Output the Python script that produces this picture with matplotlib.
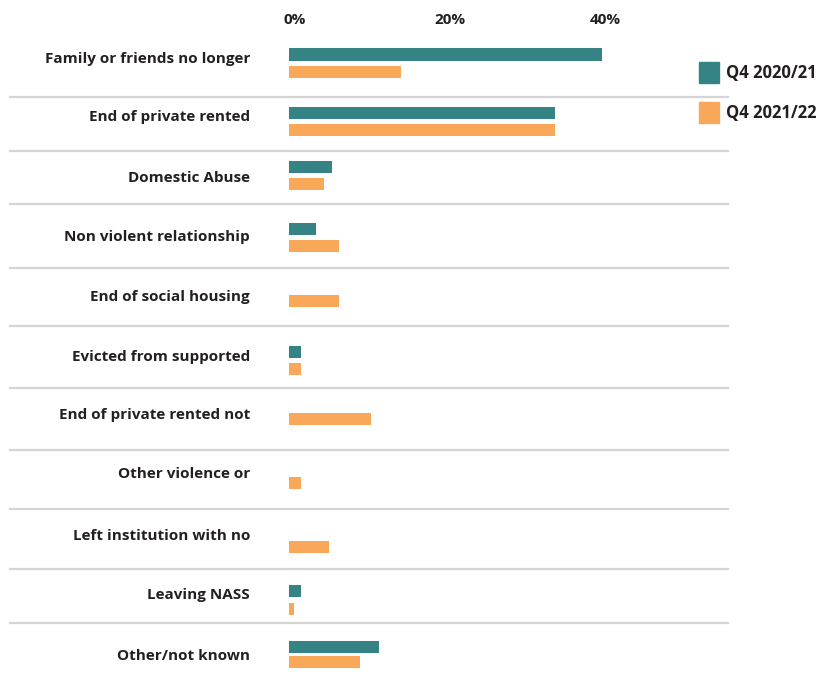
import matplotlib
matplotlib.use("Agg")
import matplotlib.pyplot as plt
import matplotlib.transforms as mtransforms
from matplotlib.patches import Patch

categories = ["Family or friends no longer", "End of private rented", "Domestic Abuse",
              "Non violent relationship", "End of social housing", "Evicted from supported",
              "End of private rented not", "Other violence or", "Left institution with no",
              "Leaving NASS", "Other/not known"]
q4_2020 = [40.4, 34.3, 5.5, 3.5, 0.0, 1.5, 0.0, 0.0, 0.0, 1.5, 11.6]
q4_2021 = [14.5, 34.3, 4.5, 6.5, 6.5, 1.5, 10.6, 1.5, 5.2, 0.6, 9.2]
series_names = ["Q4 2020/21", "Q4 2021/22"]
xticks = [0, 20, 40]
xtick_labels = ["0%", "20%", "40%"]

# layout (pixel rows of the reference layout)
teal_y = [54.5, 113, 167, 229, 291, 352, 407, 471, 535, 591, 647]
orange_y = [72, 130, 184, 246, 301, 369, 419, 483, 547, 609, 662]
label_y = [57, 116, 176, 236, 296, 355, 414, 473, 534, 593, 654]
sep_y = [97, 151, 204, 268, 326, 388, 450, 509, 569, 623]

TEAL = "#358385"
ORANGE = "#F9A85A"
TXT = "#231f20"
FONT = "Open Sans"

W, H = 819, 681
fig = plt.figure(figsize=(W / 100, H / 100), dpi=100)
x0, x1 = 289, 728
px_per = 7.75
ax = fig.add_axes([x0 / W, 0, (x1 - x0) / W, (H - 35) / H])
ax.set_xlim(0, (x1 - x0) / px_per)
ax.set_ylim(H, 35)

ax.barh(teal_y, q4_2020, height=12.5, color=TEAL, label=series_names[0])
ax.barh(orange_y, q4_2021, height=12.5, color=ORANGE, label=series_names[1])

for s in sep_y:
    ax.axhline(s, xmin=(10 - x0) / (x1 - x0), xmax=1, color="#d4d4d4", lw=1.6, clip_on=False, zorder=0)

for sp in ax.spines.values():
    sp.set_visible(False)
ax.xaxis.tick_top()
ax.set_xticks(xticks)
ax.set_xticklabels(xtick_labels, fontfamily=FONT, fontweight="bold", fontsize=11, color=TXT)
ax.tick_params(axis="x", length=0, pad=5.5)
shift = mtransforms.ScaledTranslation(6 / 100, 0, fig.dpi_scale_trans)
for lab in ax.get_xticklabels():
    lab.set_transform(lab.get_transform() + shift)
ax.set_yticks(label_y)
ax.set_yticklabels(categories, fontfamily=FONT, fontweight="bold", fontsize=11, color=TXT)
ax.tick_params(axis="y", length=0, pad=28)

handles = [Patch(color=TEAL), Patch(color=ORANGE)]
fig.legend(handles, series_names, loc="upper left", bbox_to_anchor=(684 / W, 1 - 47 / H),
           frameon=False, prop={"family": FONT, "weight": "bold", "size": 12},
           handlelength=1.2, handleheight=1.6, labelspacing=1.1, handletextpad=0.4,
           labelcolor=TXT)

fig.savefig("out.png", dpi=100)
